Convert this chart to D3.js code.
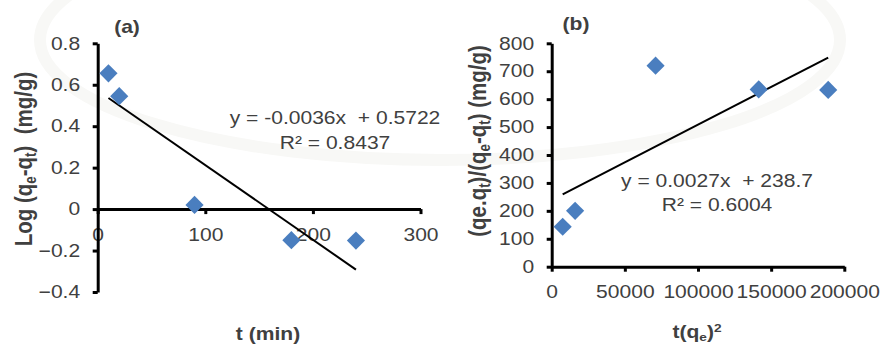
<!DOCTYPE html>
<html>
<head>
<meta charset="utf-8">
<script src="https://cdn.jsdelivr.net/npm/d3@7"></script>
<style>
  body { margin: 0; background: #fff; }
  svg { display: block; font-family: "Liberation Sans", Arial, sans-serif; }
  text { white-space: pre; }
</style>
</head>
<body>
<svg id="chart" width="880" height="345"></svg>
<script>
// panel (a): pseudo-first-order
var timeA = [10, 20, 90, 180, 240];
var logA = [0.655, 0.545, 0.02, -0.15, -0.152];
var fitA = { slope: -0.0036, intercept: 0.5722 };
var eqA = ["y = -0.0036x  + 0.5722", "R\u00b2 = 0.8437"];
var xTicksA = [0, 100, 200, 300];
var yTicksA = [-0.4, -0.2, 0, 0.2, 0.4, 0.6, 0.8];

// panel (b): pseudo-second-order
var timeB = [7500, 16000, 71000, 141500, 189000];
var ratioB = [143, 200, 720, 635, 633];
var fitB = { slope: 0.0027, intercept: 238.7 };
var eqB = ["y = 0.0027x  + 238.7", "R\u00b2 = 0.6004"];
var xTicksB = [0, 50000, 100000, 150000, 200000];
var yTicksB = [0, 100, 200, 300, 400, 500, 600, 700, 800];

var SX = 1.17;      // source image is stretched horizontally
var ink = "#404040";
var blue = "#4a7ebf";

var svg = d3.select("#chart");

// very faint watermark ring behind the plots
svg.append("ellipse")
    .attr("cx", 440).attr("cy", 40).attr("rx", 400).attr("ry", 120)
    .attr("fill", "none").attr("stroke", "#f8f8f6").attr("stroke-width", 12);

function styleAxis(g) {
    g.select(".domain").attr("stroke", "#000").attr("stroke-width", 3);
    g.selectAll(".tick line").attr("stroke", "#000").attr("stroke-width", 3);
    g.selectAll(".tick text")
        .attr("fill", ink)
        .attr("font-size", 18)
        .attr("font-family", "Liberation Sans, Arial, sans-serif")
        .attr("transform", "scale(" + SX + ",1)");
}

function label(x, y, parts, opts) {
    var t = svg.append("text")
        .attr("transform", "translate(" + x + "," + y + ") scale(" + SX + ",1)" + (opts.rotate ? " rotate(-90)" : ""))
        .attr("text-anchor", opts.anchor || "middle")
        .attr("font-size", opts.size)
        .attr("font-weight", opts.bold ? "bold" : "normal")
        .attr("fill", ink);
    parts.forEach(function(p) {
        if (typeof p == "string") {
            t.append("tspan").text(p);
        } else {
            t.append("tspan")
                .attr("font-size", opts.size * 0.65)
                .attr("baseline-shift", p.sub ? "-25%" : "45%")
                .text(p.text);
        }
    });
    return t;
}

function panel(cfg) {
    var x = d3.scaleLinear().domain(cfg.xDomain).range(cfg.xRange);
    var y = d3.scaleLinear().domain(cfg.yDomain).range(cfg.yRange);
    var g = svg.append("g");

    g.append("g")
        .attr("transform", "translate(0," + y(0) + ")")
        .call(d3.axisBottom(x).tickValues(cfg.xTicks).tickSize(5).tickSizeOuter(0)
            .tickPadding(14).tickFormat(d3.format("d")))
        .call(styleAxis);

    g.append("g")
        .attr("transform", "translate(" + x(0) + ",0)")
        .call(d3.axisLeft(y).tickValues(cfg.yTicks).tickSize(5).tickSizeOuter(0)
            .tickPadding(10).tickFormat(cfg.yFormat))
        .call(styleAxis);

    var x0 = d3.min(cfg.xs), x1 = d3.max(cfg.xs);
    g.append("line")
        .attr("x1", x(x0)).attr("y1", y(cfg.fit.slope * x0 + cfg.fit.intercept))
        .attr("x2", x(x1)).attr("y2", y(cfg.fit.slope * x1 + cfg.fit.intercept))
        .attr("stroke", "#000").attr("stroke-width", 2);

    var sym = d3.symbol(d3.symbolSquare, 165);
    g.selectAll("path.pt")
        .data(cfg.xs.map(function(v, i) { return [v, cfg.ys[i]]; }))
        .enter().append("path")
        .attr("class", "pt")
        .attr("d", sym)
        .attr("fill", blue)
        .attr("transform", function(d) {
            return "translate(" + x(d[0]) + "," + y(d[1]) + ") rotate(45)";
        });

    cfg.eq.forEach(function(s, i) {
        label(cfg.eqX, cfg.eqY[i], [s], { size: 18 });
    });
}

panel({
    xs: timeA, ys: logA, fit: fitA, eq: eqA,
    xDomain: [0, 300], xRange: [97.7, 420.5],
    yDomain: [-0.4, 0.8], yRange: [292, 43.3],
    xTicks: xTicksA, yTicks: yTicksA,
    yFormat: function(d) { return d == 0 ? "0" : d3.format(".1f")(d); },
    eqX: 335, eqY: [124, 149]
});

panel({
    xs: timeB, ys: ratioB, fit: fitB, eq: eqB,
    xDomain: [0, 200000], xRange: [551.7, 844.3],
    yDomain: [0, 800], yRange: [266.7, 43.3],
    xTicks: xTicksB, yTicks: yTicksB,
    yFormat: d3.format("d"),
    eqX: 717, eqY: [187, 210.5]
});

// panel letters
label(127, 33, ["(a)"], { size: 18, bold: true });
label(576, 30, ["(b)"], { size: 18, bold: true });

// axis titles
label(268, 340, ["t (min)"], { size: 18, bold: true });
label(697, 338, ["t(q", { text: "e", sub: true }, ")", { text: "2", sub: false }], { size: 18, bold: true });
label(31.5, 159, ["Log (q", { text: "e", sub: true }, "-q", { text: "t", sub: true }, ")  (mg/g)"],
    { size: 20.5, bold: true, rotate: true });
label(486, 141, ["(qe.q", { text: "t", sub: true }, ")/(q", { text: "e", sub: true }, "-q", { text: "t", sub: true }, ") (mg/g)"],
    { size: 20.5, bold: true, rotate: true });
</script>
</body>
</html>
